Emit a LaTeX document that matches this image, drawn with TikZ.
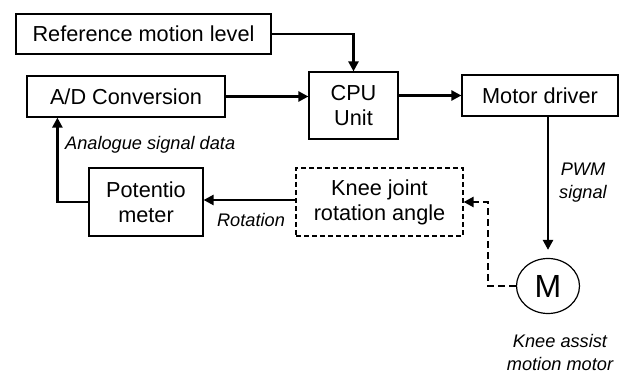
\documentclass[tikz,border=0pt]{standalone}
\usepackage{fontspec}
\setmainfont{Liberation Sans}
\usetikzlibrary{arrows.meta,shapes.geometric,calc}
\tikzset{
blk/.style={draw,line width=1.2pt,align=center,inner sep=0pt,font=\fontsize{21.7}{25}\selectfont},
lbl/.style={align=center,inner sep=0pt,font=\fontsize{18.2}{23}\selectfont\itshape},
flow/.style={line width=2.4pt,-{Triangle[length=10pt,width=10pt]}},
dashbox/.style={dash pattern=on 5pt off 3pt},
dashflow/.style={dash pattern=on 7pt off 4pt}
}
\begin{document}
\begin{tikzpicture}[x=1pt,y=-1pt]
\useasboundingbox (0,0) rectangle (627,374);
\node[blk,minimum width=255pt,minimum height=40pt](ref) at (143.5,34){Reference motion level};
\node[blk,minimum width=198pt,minimum height=41pt](ad) at (126,96.5){A/D Conversion};
\node[blk,minimum width=89pt,minimum height=67pt](cpu) at (353.5,105.5){CPU\\Unit};
\node[blk,minimum width=156pt,minimum height=41pt](mdrv) at (540,95.5){Motor driver};
\node[blk,minimum width=114pt,minimum height=68pt](pot) at (146,202){Potentio\\meter};
\node[blk,dashbox,minimum width=167pt,minimum height=68pt](knee) at (379.5,202){Knee joint\\rotation angle};
\node[blk,ellipse,minimum width=63pt,minimum height=55pt](mot) at (548,286){\fontsize{32}{34}\selectfont M};
\node[lbl,anchor=west](asd) at (65,145){Analogue signal data};
\node[lbl](rot) at (251,220){Rotation};
\node[lbl](pwm) at (583,183){PWM\\signal};
\node[lbl](kam) at (560,352){Knee assist\\motion motor};
\draw[flow](ref.east)-|(cpu.north);
\draw[flow](ad.east)--(ad.east-|cpu.west);
\draw[flow](cpu.east|-mdrv.west)--(mdrv.west);
\draw[flow,shorten >=8pt](mot.north|-mdrv.south)--(mot.north);
\draw[flow](knee.west|-0,200)--(pot.east|-0,200);
\draw[flow](pot.west)-|([xshift=31pt]ad.south west);
\draw[flow,dashflow](mot.west)--++(-28,0)|-(knee.east);
\end{tikzpicture}
\end{document}
